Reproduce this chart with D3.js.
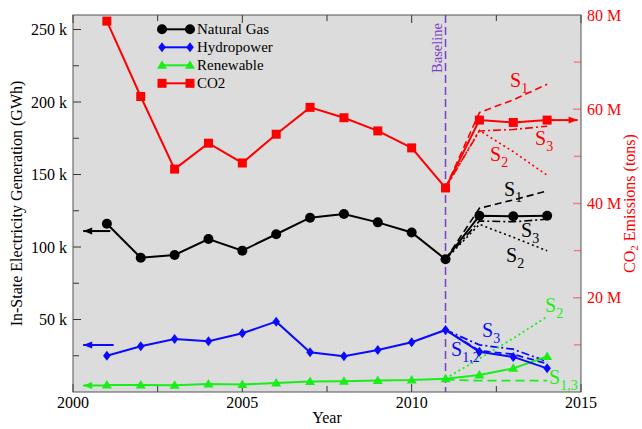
<!DOCTYPE html>
<html><head><meta charset="utf-8">
<script src="https://cdn.jsdelivr.net/npm/d3@7"></script>
<style>body{margin:0;background:#fff}svg{display:block;font-family:"Liberation Serif","Times New Roman",serif}</style>
</head><body><svg id="c" width="642" height="429"></svg>
<script>
// ---- data ----
const years = [2001,2002,2003,2004,2005,2006,2007,2008,2009,2010,2011,2012,2013,2014];
const naturalGas = [116,92.6,94.5,105.5,97.5,108.8,120.2,122.8,117,110,91.5,121.6,121.2,121.6]; // k GWh
const hydropower = [25,31.5,36.6,35,40.5,48.5,27.4,24.6,29,34.3,42.8,27.8,24.2,16.3];
const renewable = [4.8,4.8,4.6,5.5,5.2,6.2,7.2,7.4,8.0,8.2,9.2,11.7,16.3,24.5];
const co2 = [78.7,62.7,47.3,52.8,48.6,54.7,60.4,58.2,55.4,51.8,43.3,57.7,57.2,57.7]; // M tons
const scenYears = [2011,2012,2013,2014];
const co2S1 = [43.3,59.3,62,65.3];
const co2S2 = [43.3,55.5,51,46];
const co2S3 = [43.3,55.4,55.7,56.4];
const ngS1 = [91.5,126.7,132.5,138.6];
const ngS2 = [91.5,115.6,106.7,97.4];
const ngS3 = [91.5,117.9,117.4,119.1];
const hydroS12 = [42.8,28.5,26,19.5];
const hydroS3 = [42.8,32.5,29.5,21];
const renewS2 = [9.2,23,37,52];
const renewS13 = [8.5,7.8,7.8,7.8];
const baselineYear = 2011;
const leftTicks = [50,100,150,200,250];
const rightTicks = [20,40,60,80];
const xTicks = [2000,2005,2010,2015];
const legendLabels = ["Natural Gas","Hydropower","Renewable","CO2"];
const arrowLevels = {ng:111, hydro:32.4, renew:4.5, co2:57.7};

// ---- setup ----
const svg = d3.select("#c");
const L=73,R=581,T=15,B=392;
const x = d3.scaleLinear().domain([2000,2015]).range([L,R]);
const yL = d3.scaleLinear().domain([0,260]).range([B,T]);
const yR = d3.scaleLinear().domain([0,80]).range([B,T]);
const RED="#ff0000", BLUE="#0a0aff", GREEN="#1aee1a", BLACK="#000", PURPLE="#7b3fc8";

svg.append("rect").attr("x",L).attr("y",T).attr("width",R-L).attr("height",B-T).attr("fill","#dcdcdc");

// ticks
const g = svg.append("g");
d3.range(2000,2015.1,2.5).forEach(v=>{
  const len = (v%5===0)?8:6;
  g.append("line").attr("x1",x(v)).attr("x2",x(v)).attr("y1",B).attr("y2",B-len).attr("stroke","#333");
  g.append("line").attr("x1",x(v)).attr("x2",x(v)).attr("y1",T).attr("y2",T+len).attr("stroke","#333");
});
d3.range(25,260,25).forEach(v=>{
  g.append("line").attr("x1",L).attr("x2",L+(v%50===0?8:6)).attr("y1",yL(v)).attr("y2",yL(v)).attr("stroke","#333");
});
d3.range(10,80,10).forEach(v=>{
  g.append("line").attr("x1",R).attr("x2",R-(v%20===0?8:7)).attr("y1",yR(v)).attr("y2",yR(v)).attr("stroke","#f08080").attr("stroke-width",1.5);
});

// tick labels
leftTicks.forEach(v=>svg.append("text").attr("x",L-6).attr("y",yL(v)+5.5).attr("text-anchor","end").attr("font-size",16).text(v+" k"));
rightTicks.forEach(v=>svg.append("text").attr("x",R+6).attr("y",yR(v)+5.5).attr("fill",RED).attr("font-size",16).text(v+" M"));
xTicks.forEach(v=>svg.append("text").attr("x",x(v)).attr("y",408).attr("text-anchor","middle").attr("font-size",16).text(v));
svg.append("text").attr("x",(L+R)/2).attr("y",423).attr("text-anchor","middle").attr("font-size",16).text("Year");
svg.append("text").attr("transform",`translate(22,${(T+B)/2}) rotate(-90)`).attr("text-anchor","middle").attr("font-size",16).text("In-State Electricity Generation (GWh)");
const rt = svg.append("text").attr("transform",`translate(635,${(T+B)/2}) rotate(-90)`).attr("text-anchor","middle").attr("font-size",16).attr("fill",RED);
rt.append("tspan").text("CO");
rt.append("tspan").attr("font-size",11).attr("dy",3).text("2");
rt.append("tspan").attr("dy",-3).text(" Emissions (tons)");

// baseline
svg.append("line").attr("x1",x(baselineYear)).attr("x2",x(baselineYear)).attr("y1",T).attr("y2",B)
  .attr("stroke",PURPLE).attr("stroke-width",1.5).attr("stroke-dasharray","8,4");
svg.append("text").attr("transform",`translate(${x(baselineYear)-4},${T+33}) rotate(-90)`).attr("text-anchor","middle")
  .attr("font-size",14.5).attr("fill",PURPLE).text("Baseline");

// arrows
function arrow(x1,x2,y,color){
  svg.append("line").attr("x1",x1).attr("x2",x2).attr("y1",y).attr("y2",y).attr("stroke",color).attr("stroke-width",2);
  const d = x2<x1?-1:1;
  svg.append("path").attr("d",`M${x2},${y} L${x2-d*9},${y-3.5} L${x2-d*9},${y+3.5}Z`).attr("fill",color);
}
arrow(x(2001.1),x(2000.3),yL(arrowLevels.ng),BLACK);
arrow(x(2001.2),x(2000.3),yL(arrowLevels.hydro),BLUE);
arrow(x(2001),x(2000.3),yL(arrowLevels.renew),GREEN);
arrow(x(2014.1),x(2014.9),yR(arrowLevels.co2),RED);

// scenario lines
const dashes = {S1:"7,4", S2:"2,3", S3:"8,3,2,3"};
function scen(vals, scale, color, dash, w){
  const line = d3.line().x((d,i)=>x(scenYears[i])).y(d=>scale(d));
  svg.append("path").attr("d",line(vals)).attr("fill","none").attr("stroke",color).attr("stroke-width",w||1.6).attr("stroke-dasharray",dash);
}
scen(co2S1,yR,RED,dashes.S1); scen(co2S2,yR,RED,dashes.S2); scen(co2S3,yR,RED,dashes.S3);
scen(ngS1,yL,BLACK,dashes.S1); scen(ngS2,yL,BLACK,dashes.S2); scen(ngS3,yL,BLACK,dashes.S3);
scen(hydroS12,yL,BLUE,dashes.S1,1.8); scen(hydroS3,yL,BLUE,dashes.S3,1.8);
scen(renewS2,yL,GREEN,dashes.S2,1.8); scen(renewS13,yL,GREEN,"9,5",1.8);

// markers
const shapes = {
  circle: "M5,0A5,5 0 1,1 -5,0A5,5 0 1,1 5,0Z",
  diamond: "M0,-5L3.8,0L0,5L-3.8,0Z",
  triangle: "M0,-5L5,3.5L-5,3.5Z",
  square: "M-4.5,-4.5H4.5V4.5H-4.5Z"
};
function series(vals, scale, color, shape){
  const line = d3.line().x((d,i)=>x(years[i])).y(d=>scale(d));
  svg.append("path").attr("d",line(vals)).attr("fill","none").attr("stroke",color).attr("stroke-width",2);
  svg.append("g").selectAll("path").data(vals).join("path")
    .attr("transform",(d,i)=>`translate(${x(years[i])},${scale(d)})`).attr("d",shapes[shape]).attr("fill",color);
}
series(renewable,yL,GREEN,"triangle");
series(hydropower,yL,BLUE,"diamond");
series(naturalGas,yL,BLACK,"circle");
series(co2,yR,RED,"square");

// scenario labels
function slabel(xx,yy,sub,color){
  const t = svg.append("text").attr("x",xx).attr("y",yy).attr("fill",color).attr("font-size",20);
  t.append("tspan").text("S");
  t.append("tspan").attr("font-size",14).attr("dy",6).text(sub);
}
slabel(510,87,"1",RED); slabel(490,161,"2",RED); slabel(535,145,"3",RED);
slabel(504,196,"1",BLACK); slabel(521,237,"3",BLACK); slabel(506,262,"2",BLACK);
slabel(482,337,"3",BLUE); slabel(451,356,"1,2",BLUE);
slabel(545,312,"2",GREEN); slabel(549,384,"1,3",GREEN);

// legend
const lg = svg.append("g");
const lgColors=[BLACK,BLUE,GREEN,RED], lgShapes=["circle","diamond","triangle","square"];
legendLabels.forEach((lab,i)=>{
  const yy = 29.3 + i*18;
  lg.append("line").attr("x1",162).attr("x2",190).attr("y1",yy).attr("y2",yy).attr("stroke",lgColors[i]).attr("stroke-width",2);
  [162,190].forEach(xx=>lg.append("path").attr("transform",`translate(${xx},${yy})`).attr("d",shapes[lgShapes[i]]).attr("fill",lgColors[i]));
  lg.append("text").attr("x",197).attr("y",yy+5).attr("font-size",15).text(lab);
});

// frame
svg.append("rect").attr("x",L).attr("y",T).attr("width",R-L).attr("height",B-T).attr("fill","none").attr("stroke","#555");
</script></body></html>
